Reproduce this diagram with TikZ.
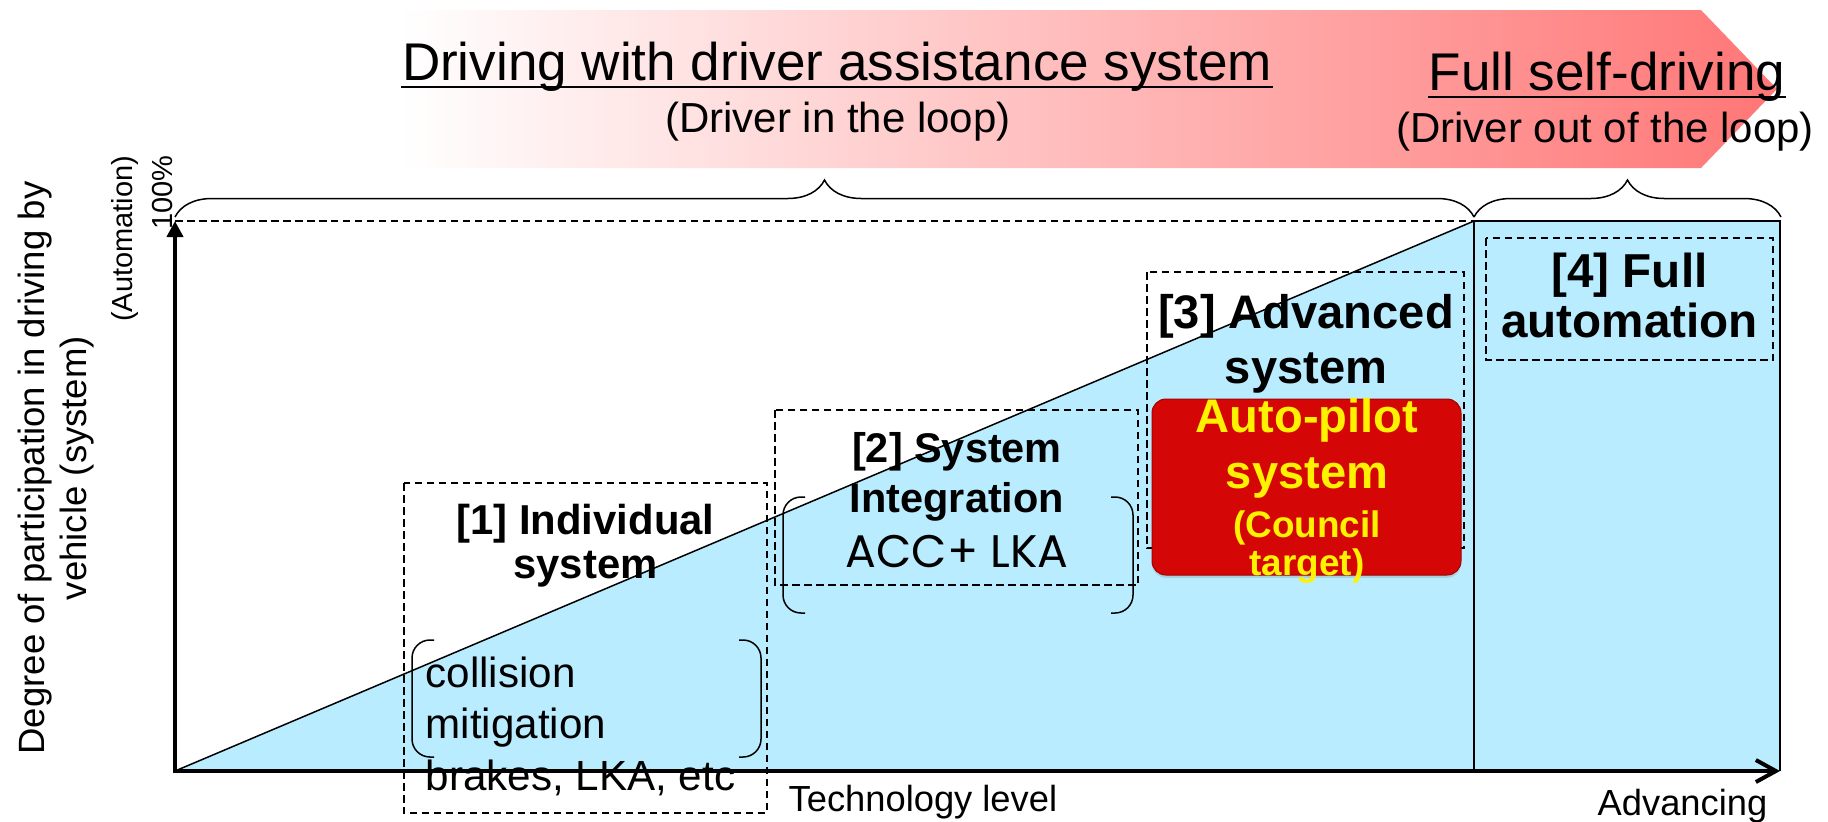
\documentclass[tikz,border=0pt]{standalone}
\usepackage{fontspec}
\setmainfont{Liberation Sans}
\newfontfamily\roundfont{Poppins}
\usepackage{tikz}
\usetikzlibrary{arrows.meta,calc,decorations.pathreplacing,shadows}

\definecolor{autoblue}{RGB}{185,236,254}
\definecolor{pilotred}{RGB}{213,6,6}
\definecolor{pilotedge}{RGB}{165,0,0}
\definecolor{bannerpink}{RGB}{255,118,118}

\begin{document}
\begin{tikzpicture}[x=0.1mm, y=-0.1mm,
    every node/.style={inner sep=0pt},
    dashbox/.style={line width=0.15mm, dash pattern=on 0.75mm off 0.45mm},
    bracket/.style={line width=0.15mm, rounded corners=1.8mm},
    bigbrace/.style={decorate, decoration={brace, amplitude=3.7mm}, line width=0.15mm},
    headline/.style={anchor=base, font=\fontsize{15.1}{18}\selectfont},
    subline/.style={anchor=base, font=\fontsize{11.95}{14}\selectfont},
    lowtitle/.style={anchor=base, align=center, font=\bfseries\fontsize{11.9}{12.4}\selectfont},
    hightitle/.style={anchor=base, align=center, font=\bfseries\fontsize{13.4}{15.6}\selectfont},
    pilottext/.style={anchor=base, align=center, text=yellow, font=\bfseries\fontsize{13.4}{15.9}\selectfont},
    axislabel/.style={anchor=base west, font=\fontsize{10.33}{12}\selectfont}]
    \useasboundingbox (0,0) rectangle (1828,821);

    % Banner arrow
    \shade[left color=white, right color=bannerpink]
        (400,10) -- (1701,10) -- (1777,89) -- (1701,168) -- (400,168) -- cycle;
    \node[headline] (assist) at (837,80) {Driving with driver assistance system};
    \node[headline] (selfdrive) at (1607,90) {Full self-driving};
    \draw[line width=0.25mm] ($(assist.base west)+(0,7)$) -- ($(assist.base east)+(0,7)$);
    \draw[line width=0.25mm] ($(selfdrive.base west)+(0,7)$) -- ($(selfdrive.base east)+(0,7)$);
    \node[subline] (inloop) at (838,132) {(Driver in the loop)};
    \node[subline] (outloop) at (1605,142) {(Driver out of the loop)};

    % Braces
    \draw[bigbrace] (175,217) -- (1474,217);
    \draw[bigbrace] (1474,217) -- (1781,217);

    % Automation area
    \fill[autoblue] (175,771) -- (1474,221) -- (1780,221) -- (1780,771) -- cycle;
    \draw[dashbox] (175,221) -- (1474,221);
    \draw[line width=0.15mm] (175,771) -- (1474,221);
    \draw[line width=0.18mm] (1474,221) -- (1780,221) -- (1780,771);
    \draw[line width=0.15mm] (1474,221) -- (1474,771);

    % Level boxes
    \draw[dashbox] (404,483) rectangle (767,813);
    \draw[dashbox] (775,410) rectangle (1138,585);
    \draw[dashbox] (1147,272) rectangle (1464,548);
    \draw[dashbox] (1486,238) rectangle (1773,360);
    \draw[bracket] (434,640) -- (412,640) -- (412,757) -- (434,757);
    \draw[bracket] (739,640) -- (761,640) -- (761,757) -- (739,757);
    \draw[bracket] (805,497) -- (783,497) -- (783,613) -- (805,613);
    \draw[bracket] (1111,497) -- (1133,497) -- (1133,613) -- (1111,613);
    \node[draw=pilotedge, fill=pilotred, line width=0.1mm, rounded corners=1.4mm,
        minimum width=30.9mm, minimum height=17.6mm,
        drop shadow={opacity=0.25, shadow xshift=0pt, shadow yshift=-0.8pt}] (pilot) at (1306.5,487) {};

    % Axes
    \draw[line width=0.4mm, {Triangle[length=1.6mm, width=1.6mm]}-{Straight Barb[length=2mm, width=2.2mm]}]
        (175,221) -- (175,771) -- (1780,771);
    \node[rotate=90, anchor=north, align=center, font=\fontsize{10.4}{12}\selectfont] (ylabel)
        at (17,468) {Degree of participation in driving by\\vehicle (system)};
    \node[rotate=90, anchor=north east, align=right, font=\fontsize{8.25}{11.4}\selectfont] (ytop)
        at (111,155) {(Automation)\\100\%};
    \node[axislabel] (techlevel) at (788,811) {Technology level};
    \node[axislabel] (advancing) at (1597,815) {Advancing};

    % Box texts
    \node[lowtitle] (indiv) at (585.5,578) {[1] Individual\\system};
    \node[anchor=base west, align=left, font=\fontsize{12}{14.65}\selectfont] (indivlist)
        at (425,790) {collision\\mitigation\\brakes, LKA, etc};
    \node[lowtitle, font=\bfseries\fontsize{11.8}{14.2}\selectfont] (integ) at (957,512) {[2] System\\Integration};
    \node[anchor=base, font=\roundfont\fontsize{13}{15}\selectfont] (acclka) at (957,567) {ACC+ LKA};
    \node[hightitle] (advanced) at (1306,383) {[3] Advanced\\system};
    \node[pilottext] (pilotname) at (1307,488) {Auto-pilot\\system};
    \node[pilottext, font=\bfseries\fontsize{10.5}{10.8}\selectfont] (council) at (1307,575) {(Council\\target)};
    \node[hightitle, font=\bfseries\fontsize{13.55}{13.95}\selectfont] (fullauto) at (1629.5,337) {[4] Full\\automation};
\end{tikzpicture}
\end{document}
